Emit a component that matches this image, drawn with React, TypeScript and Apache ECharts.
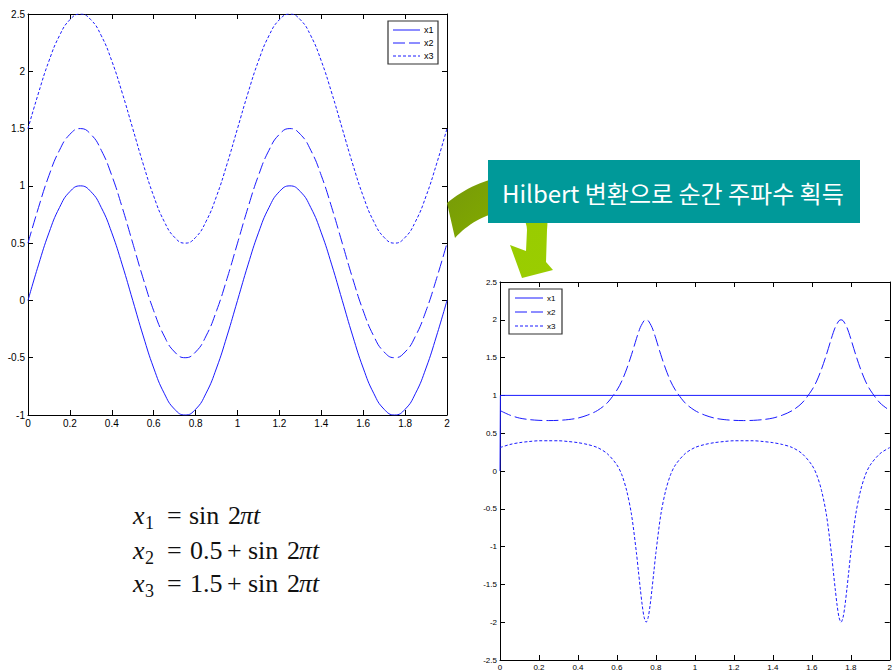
import React, { useEffect, useRef } from 'react';
import * as echarts from 'echarts';

// ---------- Left chart: original signals ----------
const T_LEFT = [0, 0.05, 0.1, 0.15, 0.2, 0.25, 0.3, 0.35, 0.4, 0.45, 0.5, 0.55, 0.6, 0.65, 0.7, 0.75, 0.8, 0.85, 0.9, 0.95,
  1, 1.05, 1.1, 1.15, 1.2, 1.25, 1.3, 1.35, 1.4, 1.45, 1.5, 1.55, 1.6, 1.65, 1.7, 1.75, 1.8, 1.85, 1.9, 1.95, 2];
const X1_LEFT = [0, 0.31, 0.59, 0.81, 0.95, 1, 0.95, 0.81, 0.59, 0.31, 0, -0.31, -0.59, -0.81, -0.95, -1, -0.95, -0.81, -0.59, -0.31,
  0, 0.31, 0.59, 0.81, 0.95, 1, 0.95, 0.81, 0.59, 0.31, 0, -0.31, -0.59, -0.81, -0.95, -1, -0.95, -0.81, -0.59, -0.31, 0];
const X2_LEFT = [0.5, 0.81, 1.09, 1.31, 1.45, 1.5, 1.45, 1.31, 1.09, 0.81, 0.5, 0.19, -0.09, -0.31, -0.45, -0.5, -0.45, -0.31, -0.09, 0.19,
  0.5, 0.81, 1.09, 1.31, 1.45, 1.5, 1.45, 1.31, 1.09, 0.81, 0.5, 0.19, -0.09, -0.31, -0.45, -0.5, -0.45, -0.31, -0.09, 0.19, 0.5];
const X3_LEFT = [1.5, 1.81, 2.09, 2.31, 2.45, 2.5, 2.45, 2.31, 2.09, 1.81, 1.5, 1.19, 0.91, 0.69, 0.55, 0.5, 0.55, 0.69, 0.91, 1.19,
  1.5, 1.81, 2.09, 2.31, 2.45, 2.5, 2.45, 2.31, 2.09, 1.81, 1.5, 1.19, 0.91, 0.69, 0.55, 0.5, 0.55, 0.69, 0.91, 1.19, 1.5];

// ---------- Right chart: instantaneous frequency ----------
const T1_RIGHT = [0, 0.002, 2];
const X1_RIGHT = [0, 1, 1];
const T_RIGHT = [0, 0.05, 0.1, 0.15, 0.2, 0.25, 0.3, 0.35, 0.4, 0.45, 0.5, 0.55, 0.6, 0.625, 0.65, 0.675, 0.7, 0.71, 0.72, 0.73, 0.74,
  0.75, 0.76, 0.77, 0.78, 0.79, 0.8, 0.825, 0.85, 0.875, 0.9, 0.95,
  1, 1.05, 1.1, 1.15, 1.2, 1.25, 1.3, 1.35, 1.4, 1.45, 1.5, 1.55, 1.6, 1.625, 1.65, 1.675, 1.7, 1.71, 1.72, 1.73, 1.74,
  1.75, 1.76, 1.77, 1.78, 1.79, 1.8, 1.825, 1.85, 1.875, 1.9, 1.95, 2];
const X2_RIGHT = [0.8, 0.74, 0.7, 0.68, 0.67, 0.667, 0.67, 0.68, 0.7, 0.74, 0.8, 0.9, 1.07, 1.19, 1.35, 1.54, 1.75, 1.83, 1.9, 1.95, 1.99,
  2.0, 1.99, 1.95, 1.9, 1.83, 1.75, 1.54, 1.35, 1.19, 1.07, 0.9,
  0.8, 0.74, 0.7, 0.68, 0.67, 0.667, 0.67, 0.68, 0.7, 0.74, 0.8, 0.9, 1.07, 1.19, 1.35, 1.54, 1.75, 1.83, 1.9, 1.95, 1.99,
  2.0, 1.99, 1.95, 1.9, 1.83, 1.75, 1.54, 1.35, 1.19, 1.07, 0.9, 0.8];
const X3_RIGHT = [0.31, 0.35, 0.375, 0.39, 0.4, 0.4, 0.4, 0.39, 0.375, 0.35, 0.31, 0.23, 0.08, -0.05, -0.26, -0.58, -1.08, -1.32, -1.56, -1.78, -1.94,
  -2.0, -1.94, -1.78, -1.56, -1.32, -1.08, -0.58, -0.26, -0.05, 0.08, 0.23,
  0.31, 0.35, 0.375, 0.39, 0.4, 0.4, 0.4, 0.39, 0.375, 0.35, 0.31, 0.23, 0.08, -0.05, -0.26, -0.58, -1.08, -1.32, -1.56, -1.78, -1.94,
  -2.0, -1.94, -1.78, -1.56, -1.32, -1.08, -0.58, -0.26, -0.05, 0.08, 0.23, 0.31];

const LEGEND_NAMES = ['x1', 'x2', 'x3'];
const BANNER_TEXT = 'Hilbert 변환으로 순간 주파수 획득';

const ARROW_D = 'M447,203 C465,188 490,176 515,176 C540,177 550,200 547,230 L546,262 L553,270 L522,278 L510,245 L526,251 L527,230 C527,220 520,212 505,212 C485,213 467,225 455,238 Z';

const BLUE = '#1a1aff';
const AXIS_FONT = '"Liberation Sans Narrow", "Liberation Sans", Arial, sans-serif';
const DASH = [12, 4];
const DOT = [3, 2];

const pairs = (t: number[], y: number[]) => t.map((v, i) => [v, y[i]]);

function xAx(grid: number, pos: 'top' | 'bottom', fs: number, showLabel: boolean) {
  return {
    type: 'value', gridIndex: grid, position: pos, min: 0, max: 2, interval: 0.2,
    axisLine: { show: true, onZero: false, lineStyle: { color: '#000', width: 1 } },
    axisTick: { show: true, inside: true, length: 5, lineStyle: { color: '#000' } },
    axisLabel: { show: showLabel, color: '#000', fontSize: fs, fontFamily: AXIS_FONT, margin: 3 },
    splitLine: { show: false },
  };
}
function yAx(grid: number, pos: 'left' | 'right', min: number, max: number, fs: number, showLabel: boolean) {
  return {
    type: 'value', gridIndex: grid, position: pos, min, max, interval: 0.5,
    axisLine: { show: true, onZero: false, lineStyle: { color: '#000', width: 1 } },
    axisTick: { show: true, inside: true, length: 5, lineStyle: { color: '#000' } },
    axisLabel: { show: showLabel, color: '#000', fontSize: fs, fontFamily: AXIS_FONT, margin: 3 },
    splitLine: { show: false },
  };
}

function legendGraphic(x0: number, y0: number, w: number, h: number, lx1: number, lx2: number, tx: number, rows: number[], fs: number) {
  const dashes = [undefined, DASH, DOT];
  const els: any[] = [{
    type: 'rect', z: 20, shape: { x: x0, y: y0, width: w, height: h },
    style: { fill: '#fff', stroke: '#333', lineWidth: 1.2 },
  }];
  LEGEND_NAMES.forEach((n, i) => {
    els.push({
      type: 'line', z: 21, shape: { x1: lx1, y1: rows[i], x2: lx2, y2: rows[i] },
      style: { stroke: BLUE, lineWidth: 1, lineDash: dashes[i] },
    });
    els.push({
      type: 'text', z: 21,
      style: { text: n, x: tx, y: rows[i], fill: '#000', fontSize: fs, fontFamily: AXIS_FONT, verticalAlign: 'middle' },
    });
  });
  return els;
}

function eqLine(yMid: number, sub: string, parts: { t: string; x: number; it?: boolean }[]) {
  const font = '"Liberation Serif", "DejaVu Serif", serif';
  const els: any[] = [
    { type: 'text', z: 5, style: { text: 'x', x: 133, y: yMid, fill: '#111', fontSize: 26, fontFamily: font, fontStyle: 'italic', verticalAlign: 'middle' } },
    { type: 'text', z: 5, style: { text: sub, x: 145, y: yMid + 8, fill: '#111', fontSize: 18, fontFamily: font, verticalAlign: 'middle' } },
  ];
  parts.forEach((p) => {
    els.push({ type: 'text', z: 5, style: { text: p.t, x: p.x, y: yMid, fill: '#111', fontSize: 26, fontFamily: font, fontStyle: p.it ? 'italic' : 'normal', verticalAlign: 'middle' } });
  });
  return els;
}

export default function App() {
  const ref = useRef<HTMLDivElement>(null);
  useEffect(() => {
    document.body.style.margin = '0';
    try {
      echarts.graphic.registerShape('curvedArrow', (echarts.graphic as any).extendPath(ARROW_D, {}));
    } catch (e) { /* already registered */ }
    const chart = echarts.init(ref.current!, null, { renderer: 'svg' });

    const option: any = {
      animation: false,
      backgroundColor: '#fff',
      grid: [
        { left: 28, top: 14, width: 419, height: 401 },
        { left: 500, top: 282, width: 400, height: 379 },
      ],
      xAxis: [
        xAx(0, 'bottom', 10, true), xAx(0, 'top', 10, false),
        xAx(1, 'bottom', 8, true), xAx(1, 'top', 8, false),
      ],
      yAxis: [
        yAx(0, 'left', -1, 2.5, 10, true), yAx(0, 'right', -1, 2.5, 10, false),
        yAx(1, 'left', -2.5, 2.5, 8, true), yAx(1, 'right', -2.5, 2.5, 8, false),
      ],
      series: [
        { name: 'x1', type: 'line', xAxisIndex: 0, yAxisIndex: 0, data: pairs(T_LEFT, X1_LEFT), smooth: true, showSymbol: false, lineStyle: { color: BLUE, width: 1 } },
        { name: 'x2', type: 'line', xAxisIndex: 0, yAxisIndex: 0, data: pairs(T_LEFT, X2_LEFT), smooth: true, showSymbol: false, lineStyle: { color: BLUE, width: 1, type: DASH } },
        { name: 'x3', type: 'line', xAxisIndex: 0, yAxisIndex: 0, data: pairs(T_LEFT, X3_LEFT), smooth: true, showSymbol: false, lineStyle: { color: BLUE, width: 1, type: DOT } },
        { name: 'x1', type: 'line', xAxisIndex: 2, yAxisIndex: 2, data: pairs(T1_RIGHT, X1_RIGHT), showSymbol: false, lineStyle: { color: BLUE, width: 1 } },
        { name: 'x2', type: 'line', xAxisIndex: 2, yAxisIndex: 2, data: pairs(T_RIGHT, X2_RIGHT), smooth: 0.3, showSymbol: false, lineStyle: { color: BLUE, width: 1, type: DASH } },
        { name: 'x3', type: 'line', xAxisIndex: 2, yAxisIndex: 2, data: pairs(T_RIGHT, X3_RIGHT), smooth: 0.3, showSymbol: false, lineStyle: { color: BLUE, width: 1, type: DOT } },
      ],
      graphic: [
        ...legendGraphic(388, 21, 50, 43, 393, 420, 424, [30, 43, 56], 9),
        ...legendGraphic(509, 289, 53, 45, 515, 543, 547, [298, 312, 326], 8),
        {
          type: 'curvedArrow', z: 30, x: 0, y: 0,
          style: {
            fill: new echarts.graphic.LinearGradient(0, 0, 1, 1, [
              { offset: 0, color: '#76990a' },
              { offset: 0.45, color: '#80a800' },
              { offset: 0.62, color: '#99cc00' },
              { offset: 1, color: '#9acd00' },
            ]),
          },
        },
        { type: 'rect', z: 31, shape: { x: 488, y: 160, width: 372, height: 63 }, style: { fill: '#009999' } },
        {
          type: 'text', z: 32,
          style: { text: BANNER_TEXT, x: 502, y: 192, fill: '#fff', fontSize: 24, fontFamily: '"Noto Sans CJK KR", "Liberation Sans", sans-serif', verticalAlign: 'middle' },
        },
        ...eqLine(515, '1', [{ t: '=', x: 167 }, { t: 'sin', x: 189 }, { t: '2', x: 228 }, { t: 'πt', x: 240, it: true }]),
        ...eqLine(550, '2', [{ t: '=', x: 167 }, { t: '0.5', x: 190 }, { t: '+', x: 227 }, { t: 'sin', x: 248 }, { t: '2', x: 287 }, { t: 'πt', x: 299, it: true }]),
        ...eqLine(583, '3', [{ t: '=', x: 167 }, { t: '1.5', x: 190 }, { t: '+', x: 227 }, { t: 'sin', x: 248 }, { t: '2', x: 287 }, { t: 'πt', x: 299, it: true }]),
      ],
    };
    chart.setOption(option);
    return () => chart.dispose();
  }, []);
  return <div ref={ref} style={{ position: 'fixed', left: 0, top: 0, width: 895, height: 671, background: '#fff' }} />;
}
